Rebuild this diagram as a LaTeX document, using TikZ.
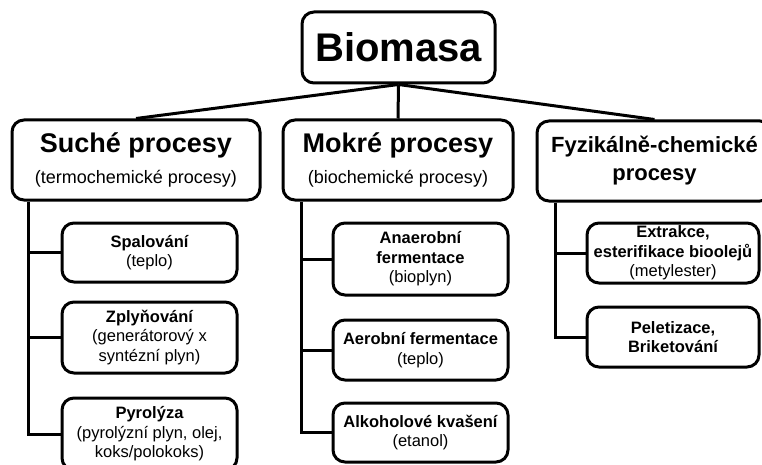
\documentclass[tikz,border=0pt]{standalone}
\usepackage{fontspec}
\setmainfont{Liberation Sans}
\usetikzlibrary{positioning}
\newcommand{\toptitle}{\fontsize{40}{44}\selectfont\bfseries}
\newcommand{\grouptitle}{\fontsize{27}{30}\selectfont\bfseries}
\newcommand{\groupnote}{\fontsize{18}{20}\selectfont}
\newcommand{\itemtitle}{\fontsize{16.5}{19}\selectfont\bfseries}
\newcommand{\itemnote}{\fontsize{16.5}{19.5}\selectfont}

\begin{document}
\begin{tikzpicture}[x=1pt, y=-1pt,
    box/.style={draw, rounded corners=12, line width=3, align=center, inner sep=0pt},
    link/.style={line width=3}]
    \useasboundingbox (0,0) rectangle (762,465);
    \clip (0,0) rectangle (762,465);
    % top
    \node[box, minimum width=193, minimum height=71] (bio) at (398.5, 47.5) {\toptitle Biomasa};
    % groups
    \node[box, minimum width=248, minimum height=80, font=\fontsize{18}{24}\selectfont] (suche) at (136, 160)
        {{\grouptitle Suché procesy}\\[7pt]{\groupnote (termochemické procesy)}};
    \node[box, minimum width=230, minimum height=80, font=\fontsize{18}{24}\selectfont] (mokre) at (398, 160)
        {{\grouptitle Mokré procesy}\\[7pt]{\groupnote (biochemické procesy)}};
    \node[box, minimum width=235, minimum height=80, font=\fontsize{22}{28}\selectfont] (fyz) at (654.5, 161)
        {{\bfseries Fyzikálně-chemické}\\{\bfseries procesy}};
    \draw[link] (bio.south) -- (suche.north);
    \draw[link] (bio.south) -- (mokre.north);
    \draw[link] (bio.south) -- (fyz.north);
    % suche procesy
    \node[box, minimum width=175, minimum height=59, font=\itemnote] (spal) at (149.5, 252.5)
        {{\itemtitle Spalování}\\{\itemnote (teplo)}};
    \node[box, minimum width=175, minimum height=71, font=\itemnote] (zply) at (149.5, 337.5)
        {{\itemtitle Zplyňování}\\{\itemnote (generátorový x}\\{\itemnote syntézní plyn)}};
    \node[box, minimum width=175, minimum height=72, font=\itemnote] (pyro) at (149.5, 434)
        {{\itemtitle Pyrolýza}\\{\itemnote (pyrolýzní plyn, olej,}\\{\itemnote koks/polokoks)}};
    \coordinate (strunk) at ([xshift=18]suche.south west);
    \draw[link] (strunk) |- (pyro.west);
    \draw[link] (strunk |- spal.west) -- (spal.west);
    \draw[link] (strunk |- zply.west) -- (zply.west);
    % mokre procesy
    \node[box, minimum width=175, minimum height=72, font=\itemnote] (anae) at (420.5, 259)
        {{\itemtitle Anaerobní}\\{\itemtitle fermentace}\\{\itemnote (bioplyn)}};
    \node[box, minimum width=175, minimum height=60, font=\itemnote] (aero) at (420.5, 350)
        {{\itemtitle Aerobní fermentace}\\{\itemnote (teplo)}};
    \node[box, minimum width=175, minimum height=59, font=\itemnote] (alko) at (420.5, 432.5)
        {{\itemtitle Alkoholové kvašení}\\{\itemnote (etanol)}};
    \coordinate (mtrunk) at ([xshift=20]mokre.south west);
    \draw[link] (mtrunk) |- (alko.west);
    \draw[link] (mtrunk |- anae.west) -- (anae.west);
    \draw[link] (mtrunk |- aero.west) -- (aero.west);
    % fyzikalne-chemicke procesy
    \node[box, minimum width=172, minimum height=60, font=\itemnote] (extr) at (673, 253)
        {{\itemtitle Extrakce,}\\{\itemtitle esterifikace bioolejů}\\{\itemnote (metylester)}};
    \node[box, minimum width=172, minimum height=60, font=\itemnote] (pele) at (673, 337)
        {{\itemtitle Peletizace,}\\{\itemtitle Briketování}};
    \coordinate (ftrunk) at ([xshift=20]fyz.south west);
    \draw[link] (ftrunk) |- (pele.west);
    \draw[link] (ftrunk |- extr.west) -- (extr.west);
\end{tikzpicture}
\end{document}
